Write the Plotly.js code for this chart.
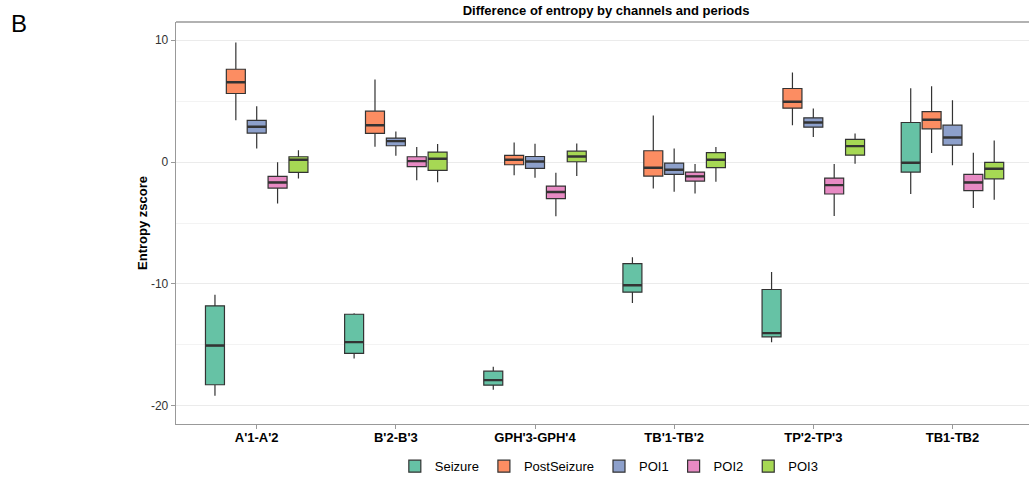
<!DOCTYPE html>
<html>
<head>
<meta charset="utf-8">
<script src="https://cdn.plot.ly/plotly-3.0.1.min.js"></script>
<style>html,body{margin:0;padding:0;background:#fff;}#chart{width:1029px;height:479px;}</style>
</head>
<body>
<div id="chart"></div>
<script>
const categories = ["A'1-A'2", "B'2-B'3", "GPH'3-GPH'4", "TB'1-TB'2", "TP'2-TP'3", "TB1-TB2"];
const seriesNames = ["Seizure", "PostSeizure", "POI1", "POI2", "POI3"];
const seriesColors = ["#66C2A5", "#FC8D62", "#8DA0CB", "#E78AC3", "#A6D854"];

// box statistics per series, one value per category
const seizureLower  = [-19.18, -16.12, -18.69, -11.56, -14.78, -2.62];
const seizureQ1     = [-18.28, -15.71, -18.31, -10.68, -14.34, -0.82];
const seizureMedian = [-15.06, -14.78, -17.90, -10.11, -14.04, -0.05];
const seizureQ3     = [-11.80, -12.49, -17.16, -8.33, -10.46, 3.25];
const seizureUpper  = [-10.90, -12.40, -16.80, -7.81, -9.02, 6.07];

const postLower  = [3.44, 1.26, -1.09, -2.16, 3.03, 0.74];
const postQ1     = [5.63, 2.35, -0.22, -1.15, 4.43, 2.73];
const postMedian = [6.56, 3.03, 0.19, -0.46, 4.95, 3.47];
const postQ3     = [7.62, 4.18, 0.55, 0.93, 6.04, 4.15];
const postUpper  = [9.81, 6.78, 1.61, 3.83, 7.35, 6.23];

const poi1Lower  = [1.12, 0.52, -1.28, -2.43, 2.05, -0.25];
const poi1Q1     = [2.38, 1.34, -0.52, -1.01, 2.87, 1.39];
const poi1Median = [2.90, 1.72, 0.05, -0.63, 3.25, 2.02];
const poi1Q3     = [3.42, 1.97, 0.46, -0.08, 3.63, 3.03];
const poi1Upper  = [4.59, 2.51, 1.50, 1.12, 4.40, 5.08];

const poi2Lower  = [-3.39, -1.50, -4.45, -2.57, -4.43, -3.77];
const poi2Q1     = [-2.13, -0.38, -3.00, -1.56, -2.62, -2.35];
const poi2Median = [-1.67, 0.08, -2.46, -1.17, -1.89, -1.67];
const poi2Q3     = [-1.17, 0.44, -1.97, -0.82, -1.31, -1.01];
const poi2Upper  = [-0.02, 1.23, -0.87, -0.16, -0.16, 0.77];

const poi3Lower  = [-1.34, -1.66, -1.15, -1.61, -0.14, -3.09];
const poi3Q1     = [-0.85, -0.68, 0.03, -0.46, 0.57, -1.37];
const poi3Median = [0.19, 0.27, 0.46, 0.19, 1.31, -0.55];
const poi3Q3     = [0.44, 0.82, 0.90, 0.77, 1.86, -0.03];
const poi3Upper  = [0.98, 1.48, 1.53, 1.23, 2.35, 1.78];

const stats = [
  [seizureLower, seizureQ1, seizureMedian, seizureQ3, seizureUpper],
  [postLower, postQ1, postMedian, postQ3, postUpper],
  [poi1Lower, poi1Q1, poi1Median, poi1Q3, poi1Upper],
  [poi2Lower, poi2Q1, poi2Median, poi2Q3, poi2Upper],
  [poi3Lower, poi3Q1, poi3Median, poi3Q3, poi3Upper]
];

const boxTraces = seriesNames.map((name, i) => ({
  type: 'box',
  name: name,
  x: categories,
  lowerfence: stats[i][0],
  q1: stats[i][1],
  median: stats[i][2],
  q3: stats[i][3],
  upperfence: stats[i][4],
  offsetgroup: 'g' + i,
  fillcolor: seriesColors[i],
  line: {color: '#333333', width: 1.2},
  whiskerwidth: 0,
  boxpoints: false,
  hoverinfo: 'skip'
}));

// thicker median bars drawn on top of each box (same offset group)
const medianTraces = seriesNames.map((name, i) => ({
  type: 'box',
  name: name + ' median',
  x: categories,
  lowerfence: stats[i][2],
  q1: stats[i][2],
  median: stats[i][2],
  q3: stats[i][2],
  upperfence: stats[i][2],
  offsetgroup: 'g' + i,
  fillcolor: 'rgba(0,0,0,0)',
  line: {color: '#333333', width: 2.4},
  whiskerwidth: 0,
  boxpoints: false,
  showlegend: false,
  hoverinfo: 'skip'
}));

const layout = {
  width: 1029, height: 479,
  margin: {l: 176, r: 0, t: 22, b: 55},
  paper_bgcolor: '#ffffff', plot_bgcolor: '#ffffff',
  font: {family: 'Liberation Sans, Arial, sans-serif', color: '#000'},
  boxmode: 'group',
  boxgap: 0.25,
  boxgroupgap: 0.09,
  showlegend: true,
  legend: {orientation: 'h', xref: 'paper', x: 0.508, xanchor: 'center',
           yref: 'container', y: 0.058, yanchor: 'top',
           font: {size: 13, color: '#000'}, itemwidth: 30, tracegroupgap: 0},
  title: {text: '<b>Difference of entropy by channels and periods</b>',
          xref: 'container', x: 0.589, xanchor: 'center', yref: 'container', y: 0.978, yanchor: 'middle',
          font: {size: 13, color: '#000'}},
  xaxis: {
    type: 'category',
    range: [-0.58, 5.55],
    showgrid: false,
    showline: true, linecolor: '#999999', linewidth: 1.3,
    ticks: 'outside', ticklen: 4, tickcolor: '#999999',
    ticklabelstandoff: -3,
    tickfont: {size: 13, color: '#000', family: 'Liberation Sans, Arial, sans-serif'},
    tickprefix: '<b>', ticksuffix: '</b>',
    zeroline: false, fixedrange: true
  },
  yaxis: {
    range: [-21.5, 11.5],
    tickvals: [-20, -10, 0, 10],
    ticktext: ['-20', '-10', '0', '10'],
    showgrid: true, gridcolor: '#EBEBEB', gridwidth: 1,
    minor: {tickvals: [-15, -5, 5], showgrid: true, gridcolor: '#F3F3F3', gridwidth: 1, ticks: ''},
    showline: true, linecolor: '#999999', linewidth: 1.3,
    ticks: 'outside', ticklen: 4, tickcolor: '#999999',
    tickfont: {size: 12, color: '#333'},
    zeroline: false,
    title: {text: '<b>Entropy zscore</b>', font: {size: 13, color: '#000'}, standoff: 0},
    fixedrange: true
  },
  shapes: [
    {type: 'line', xref: 'paper', yref: 'paper', x0: 0, x1: 1, y0: 1, y1: 1,
     line: {color: '#999999', width: 1.3}}
  ],
  annotations: [
    {text: 'B', xref: 'paper', yref: 'paper', x: (9 - 176) / 853, xanchor: 'left',
     y: 1 + (22 - 24) / 402, yanchor: 'middle', showarrow: false, font: {size: 24, color: '#000'}}
  ]
};

Plotly.newPlot('chart', boxTraces.concat(medianTraces), layout, {displayModeBar: false, staticPlot: true});
</script>
</body>
</html>
